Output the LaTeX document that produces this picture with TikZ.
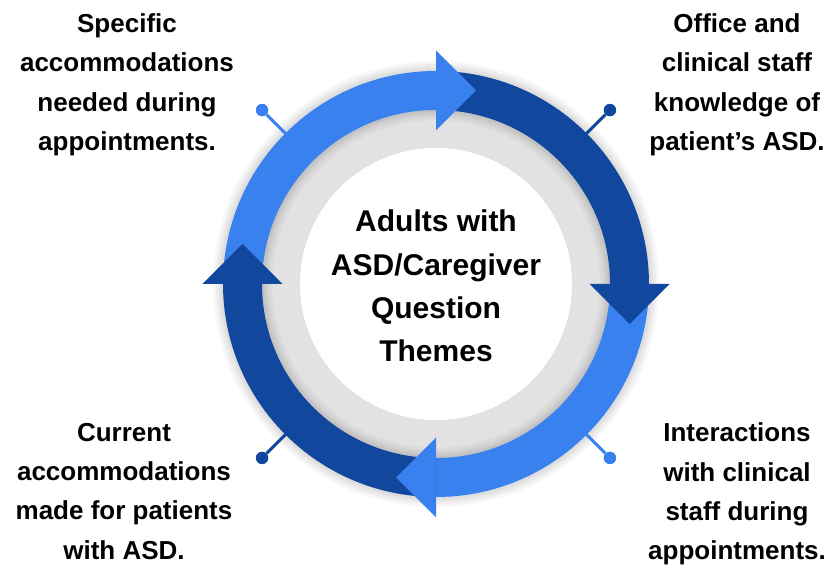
\documentclass[tikz,border=0pt]{standalone}
\usepackage{fontspec}
\setmainfont{Liberation Sans}
\usetikzlibrary{calc}
\definecolor{lb}{HTML}{3881EE}
\definecolor{db}{HTML}{11489E}
\definecolor{gr}{HTML}{E2E2E2}
\begin{document}
\begin{tikzpicture}[x=1pt,y=1pt,
  sidetext/.style={font=\fontsize{26}{39.3}\selectfont\bfseries, align=center, text=black, inner sep=0pt},
  midtext/.style={font=\fontsize{30}{43.3}\selectfont\bfseries, align=center, text=black, inner sep=0pt},
  pindot/.style={circle, inner sep=0pt, minimum size=12.5pt},
  pinline/.style={line width=3pt}]
\useasboundingbox (0,0) rectangle (833,567);
\coordinate (C) at (436,283);
% gray band and soft shadows
\fill[gr] (C) circle (176);
\foreach \w in {20,14,9,5} {
  \draw[black, opacity=0.035, line width=\w] (C) circle (213);
  \draw[black, opacity=0.035, line width=\w] (C) circle (174);
}
\fill[white] (C) circle (136);
% pins
\foreach \a/\c/\n in {135/lb/p1, 45/db/p2, 225/db/p3, 315/lb/p4} {
  \coordinate (\n r) at ([shift={(\a:211)}]C);
  \node[pindot, fill=\c] (\n) at ([shift={(\a:246)}]C) {};
  \draw[pinline, \c] (\n) -- (\n r);
}
% ring segments
\foreach \s/\e/\c in {180/90/lb, 90/0/db, 0/-90/lb, -90/-180/db} {
  \fill[\c] ([shift={(\s:213)}]C) arc[start angle=\s, end angle=\e, radius=213]
    -- ([shift={(\e:174)}]C) arc[start angle=\e, end angle=\s, radius=174] -- cycle;
}
% arrow heads
\foreach \e/\c in {90/lb, 0/db, -90/lb, -180/db} {
  \fill[\c] ([shift={(\e:153.5)}]C) -- ([shift={(\e:233.5)}]C)
    -- ($(C)+(\e:193.5)+(\e-90:40)$) -- cycle;
}
% texts
\node[midtext] (ct) at (436,281) {Adults with\\ASD/Caregiver\\Question\\Themes};
\node[sidetext] (tl) at (127,482.3) {Specific\\accommodations\\needed during\\appointments.};
\node[sidetext] (tr) at (737,482.3) {Office and\\clinical staff\\knowledge of\\patient’s ASD.};
\node[sidetext] (bl) at (124,75.8) {Current\\accommodations\\made for patients\\with ASD.};
\node[sidetext] (br) at (737,73) {Interactions\\with clinical\\staff during\\appointments.};
\end{tikzpicture}
\end{document}
